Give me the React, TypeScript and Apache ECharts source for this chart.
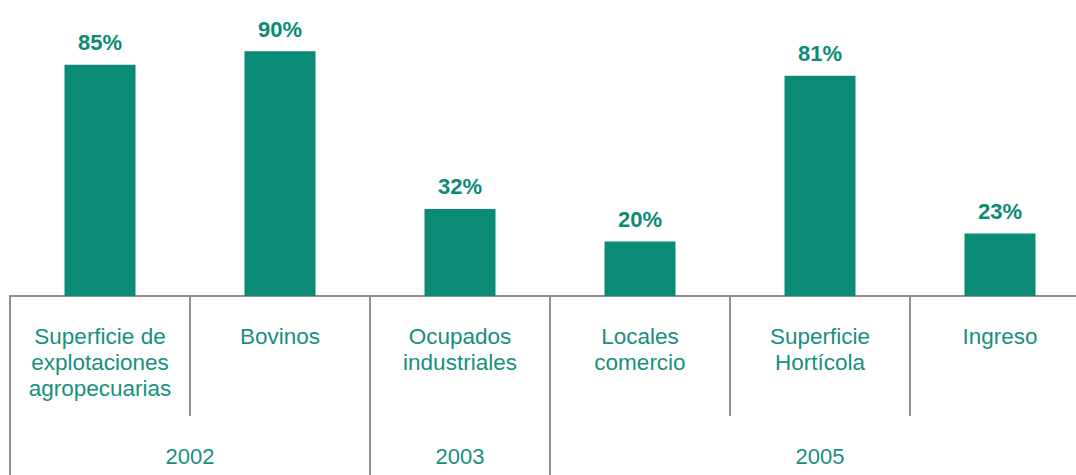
import React, { useEffect, useRef } from "react";
import * as echarts from "echarts";

const categories = [
  "Superficie de\nexplotaciones\nagropecuarias",
  "Bovinos",
  "Ocupados\nindustriales",
  "Locales\ncomercio",
  "Superficie\nHortícola",
  "Ingreso",
];
const values = [85, 90, 32, 20, 81, 23];
const groupLabels = ["2002", "2003", "2005"];
const groupCenters = [1, 2.5, 4.5];
const groupBounds = [0, 2, 3, 6];

export default function App() {
  const ref = useRef<HTMLDivElement>(null);
  useEffect(() => {
    if (!ref.current) return;
    const chart = echarts.init(ref.current, null, { renderer: "svg" });
    const gray = "#8f8f8f";
    const teal = "#0b8b76";
    const textTeal = "#178f80";
    chart.setOption({
      animation: false,
      grid: { left: 10, right: 10, top: 24, bottom: 179, containLabel: false },
      xAxis: [
        {
          type: "category",
          data: categories,
          position: "bottom",
          axisLine: { show: true, lineStyle: { color: gray, width: 2 } },
          axisTick: {
            show: true,
            interval: 0,
            alignWithLabel: false,
            length: 120,
            lineStyle: { color: gray, width: 2 },
          },
          axisLabel: {
            interval: 0,
            margin: 27,
            fontFamily: "Liberation Sans, Arial, sans-serif",
            fontSize: 22.5,
            lineHeight: 26,
            color: textTeal,
            align: "center",
          },
        },
        {
          type: "value",
          min: 0,
          max: 6,
          position: "bottom",
          axisLine: { show: false },
          splitLine: { show: false },
          axisTick: {
            show: true,
            customValues: groupBounds,
            length: 179,
            lineStyle: { color: gray, width: 2 },
          },
          axisLabel: {
            show: true,
            customValues: groupCenters,
            margin: 147,
            fontFamily: "Liberation Sans, Arial, sans-serif",
            fontSize: 22,
            lineHeight: 26,
            color: textTeal,
            formatter: (v: number) => {
              const i = groupCenters.indexOf(v);
              return i >= 0 ? groupLabels[i] : "";
            },
          },
        },
      ],
      yAxis: {
        type: "value",
        min: 0,
        max: 100,
        show: false,
        splitLine: { show: false },
      },
      series: [
        {
          type: "bar",
          xAxisIndex: 0,
          data: values,
          barWidth: 71,
          itemStyle: { color: teal },
          label: {
            show: true,
            position: "top",
            distance: 11,
            formatter: "{c}%",
            fontFamily: "Liberation Sans, Arial, sans-serif",
            fontSize: 22,
            fontWeight: "bold",
            color: teal,
          },
        },
      ],
    });
    return () => chart.dispose();
  }, []);
  return (
    <div
      style={{ position: "absolute", left: 0, top: 0, width: 1076, height: 475, overflow: "hidden", background: "#fff" }}
    >
      <div ref={ref} style={{ width: 1100, height: 475 }} />
    </div>
  );
}
